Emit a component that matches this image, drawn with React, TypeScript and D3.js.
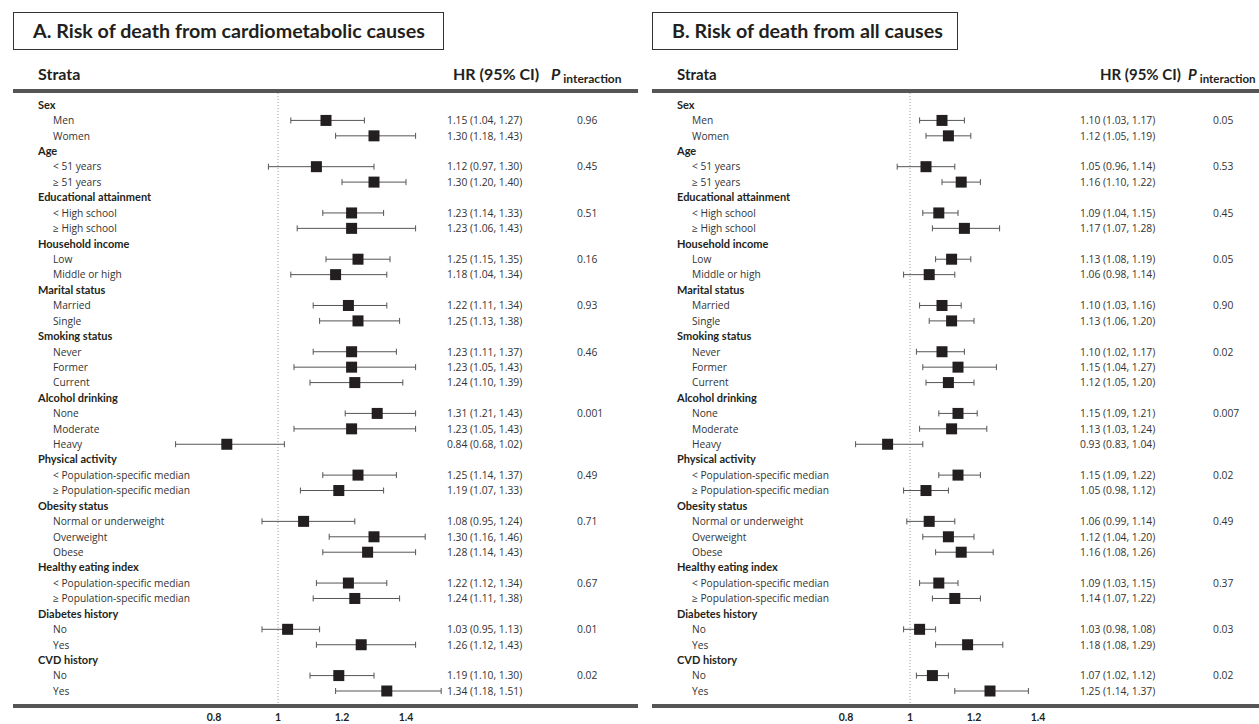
import React, { useEffect, useRef } from 'react';
import * as d3 from 'd3';

const groupNames = [
    'Sex', 'Age', 'Educational attainment', 'Household income', 'Marital status',
    'Smoking status', 'Alcohol drinking', 'Physical activity', 'Obesity status',
    'Healthy eating index', 'Diabetes history', 'CVD history',
];
const subgroupLabels = [
    ['Men', 'Women'],
    ['< 51 years', '≥ 51 years'],
    ['< High school', '≥ High school'],
    ['Low', 'Middle or high'],
    ['Married', 'Single'],
    ['Never', 'Former', 'Current'],
    ['None', 'Moderate', 'Heavy'],
    ['< Population-specific median', '≥ Population-specific median'],
    ['Normal or underweight', 'Overweight', 'Obese'],
    ['< Population-specific median', '≥ Population-specific median'],
    ['No', 'Yes'],
    ['No', 'Yes'],
];

// Panel A: cardiometabolic causes
const hrA = [1.15, 1.30, 1.12, 1.30, 1.23, 1.23, 1.25, 1.18, 1.22, 1.25, 1.23, 1.23, 1.24,
    1.31, 1.23, 0.84, 1.25, 1.19, 1.08, 1.30, 1.28, 1.22, 1.24, 1.03, 1.26, 1.19, 1.34];
const lowA = [1.04, 1.18, 0.97, 1.20, 1.14, 1.06, 1.15, 1.04, 1.11, 1.13, 1.11, 1.05, 1.10,
    1.21, 1.05, 0.68, 1.14, 1.07, 0.95, 1.16, 1.14, 1.12, 1.11, 0.95, 1.12, 1.10, 1.18];
const highA = [1.27, 1.43, 1.30, 1.40, 1.33, 1.43, 1.35, 1.34, 1.34, 1.38, 1.37, 1.43, 1.39,
    1.43, 1.43, 1.02, 1.37, 1.33, 1.24, 1.46, 1.43, 1.34, 1.38, 1.13, 1.43, 1.30, 1.51];
const pA = ['0.96', '0.45', '0.51', '0.16', '0.93', '0.46', '0.001', '0.49', '0.71', '0.67', '0.01', '0.02'];

// Panel B: all causes
const hrB = [1.10, 1.12, 1.05, 1.16, 1.09, 1.17, 1.13, 1.06, 1.10, 1.13, 1.10, 1.15, 1.12,
    1.15, 1.13, 0.93, 1.15, 1.05, 1.06, 1.12, 1.16, 1.09, 1.14, 1.03, 1.18, 1.07, 1.25];
const lowB = [1.03, 1.05, 0.96, 1.10, 1.04, 1.07, 1.08, 0.98, 1.03, 1.06, 1.02, 1.04, 1.05,
    1.09, 1.03, 0.83, 1.09, 0.98, 0.99, 1.04, 1.08, 1.03, 1.07, 0.98, 1.08, 1.02, 1.14];
const highB = [1.17, 1.19, 1.14, 1.22, 1.15, 1.28, 1.19, 1.14, 1.16, 1.20, 1.17, 1.27, 1.20,
    1.21, 1.24, 1.04, 1.22, 1.12, 1.14, 1.20, 1.26, 1.15, 1.22, 1.08, 1.29, 1.12, 1.37];
const pB = ['0.05', '0.53', '0.45', '0.05', '0.90', '0.02', '0.007', '0.02', '0.49', '0.37', '0.03', '0.02'];

const tickValues = [0.8, 1, 1.2, 1.4];
const tickLabels = ['0.8', '1', '1.2', '1.4'];

const titleA = 'A. Risk of death from cardiometabolic causes';
const titleB = 'B. Risk of death from all causes';

const W = 1259;
const H = 724;
const headFont = 'Lato, "Open Sans", sans-serif';
const bodyFont = '"Open Sans", "DejaVu Sans", sans-serif';

interface Panel {
    title: string;
    hr: number[];
    low: number[];
    high: number[];
    p: string[];
    x0: number;      // left edge
    x1: number;      // right edge
    titleW: number;
    zero: number;    // x of HR = 1
    hrX: number;
    pX: number;
    hrHeadX: number;
    pHeadX: number;
    headSize: number;
    subSize: number;
}

const panels: Panel[] = [
    { title: titleA, hr: hrA, low: lowA, high: highA, p: pA, x0: 13, x1: 638, titleW: 430,
        zero: 278, hrX: 447, pX: 577, hrHeadX: 453, pHeadX: 551, headSize: 16, subSize: 12 },
    { title: titleB, hr: hrB, low: lowB, high: highB, p: pB, x0: 652, x1: 1259, titleW: 305,
        zero: 910, hrX: 1080, pX: 1213, hrHeadX: 1100, pHeadX: 1188, headSize: 15, subSize: 11.5 },
];

const App: React.FC = () => {
    const ref = useRef<SVGSVGElement | null>(null);

    useEffect(() => {
        if (!ref.current) return;
        const svg = d3.select(ref.current);
        svg.selectAll('*').remove();

        // flatten rows
        type Row = { label: string; header: boolean; g: number; k: number; first: boolean };
        const rows: Row[] = [];
        let k = 0;
        groupNames.forEach((g, gi) => {
            rows.push({ label: g, header: true, g: gi, k: -1, first: false });
            subgroupLabels[gi].forEach((s, si) => {
                rows.push({ label: s, header: false, g: gi, k: k++, first: si === 0 });
            });
        });

        const y = d3.scaleLinear().domain([0, rows.length - 1]).range([105, 691]);
        const lineTop = 91;
        const lineBottom = 706;

        panels.forEach(pn => {
            const g = svg.append('g');
            const x = d3.scaleLinear().domain([1, 1.2]).range([pn.zero, pn.zero + 64]);

            // title box
            g.append('rect')
                .attr('x', pn.x0 + 0.5).attr('y', 12.5)
                .attr('width', pn.titleW).attr('height', 37)
                .attr('fill', 'none').attr('stroke', '#333').attr('stroke-width', 1);
            g.append('text')
                .attr('x', pn.x0 + 20).attr('y', 38)
                .style('font-family', headFont).style('font-weight', 700)
                .style('font-size', '19.7px').style('fill', '#231f20')
                .text(pn.title);

            // header
            const hs = (sel: d3.Selection<SVGTextElement, unknown, null, undefined>) =>
                sel.style('font-family', headFont).style('font-weight', 700)
                    .style('font-size', `${pn.headSize}px`).style('fill', '#231f20');
            hs(g.append('text').attr('x', pn.x0 + 25).attr('y', 80).text('Strata'));
            hs(g.append('text').attr('x', pn.hrHeadX).attr('y', 80).text('HR (95% CI)'));
            const pt = g.append('text').attr('x', pn.pHeadX).attr('y', 80)
                .style('font-family', headFont).style('fill', '#231f20');
            pt.append('tspan').style('font-weight', 700).style('font-style', 'italic')
                .style('font-size', `${pn.headSize}px`).text('P');
            pt.append('tspan').attr('dx', 3).attr('dy', 3).style('font-weight', 700)
                .style('font-size', `${pn.subSize}px`).text('interaction');

            // rules
            [lineTop, lineBottom].forEach(ly => {
                g.append('line').attr('x1', pn.x0).attr('x2', pn.x1)
                    .attr('y1', ly).attr('y2', ly)
                    .attr('stroke', '#555').attr('stroke-width', 4);
            });

            // reference line at HR = 1
            g.append('line').attr('x1', x(1)).attr('x2', x(1))
                .attr('y1', lineTop + 2).attr('y2', lineBottom - 2)
                .attr('stroke', '#999').attr('stroke-width', 1).attr('stroke-dasharray', '1,2');

            // axis labels
            g.selectAll('text.tick').data(tickValues).enter().append('text')
                .attr('class', 'tick')
                .attr('x', d => x(d)).attr('y', 721)
                .attr('text-anchor', 'middle')
                .style('font-family', headFont).style('font-weight', 700).style('font-size', '10.5px')
                .style('fill', '#231f20')
                .text((d, i) => tickLabels[i]);

            // row labels
            g.selectAll('text.row').data(rows).enter().append('text')
                .attr('class', 'row')
                .attr('x', d => pn.x0 + (d.header ? 25 : 40))
                .attr('y', (d, i) => y(i) + 3.8)
                .style('font-family', d => (d.header ? headFont : bodyFont))
                .style('font-weight', d => (d.header ? 700 : 400))
                .style('font-size', d => (d.header ? '11px' : '10.2px'))
                .style('fill', d => (d.header ? '#231f20' : '#333'))
                .text(d => d.label);

            const data = rows.map((r, i) => ({ r, i })).filter(d => !d.r.header);

            // whiskers
            const wg = g.selectAll('g.ci').data(data).enter().append('g').attr('class', 'ci');
            wg.append('line')
                .attr('x1', d => x(pn.low[d.r.k])).attr('x2', d => x(pn.high[d.r.k]))
                .attr('y1', d => y(d.i)).attr('y2', d => y(d.i))
                .attr('stroke', '#555').attr('stroke-width', 1);
            wg.append('line')
                .attr('x1', d => x(pn.low[d.r.k])).attr('x2', d => x(pn.low[d.r.k]))
                .attr('y1', d => y(d.i) - 3).attr('y2', d => y(d.i) + 3)
                .attr('stroke', '#555').attr('stroke-width', 1);
            wg.append('line')
                .attr('x1', d => x(pn.high[d.r.k])).attr('x2', d => x(pn.high[d.r.k]))
                .attr('y1', d => y(d.i) - 3).attr('y2', d => y(d.i) + 3)
                .attr('stroke', '#555').attr('stroke-width', 1);
            wg.append('rect')
                .attr('x', d => x(pn.hr[d.r.k]) - 5.5).attr('y', d => y(d.i) - 5.5)
                .attr('width', 11).attr('height', 11)
                .attr('fill', '#231f20');

            // HR text
            g.selectAll('text.hr').data(data).enter().append('text')
                .attr('class', 'hr')
                .attr('x', pn.hrX).attr('y', d => y(d.i) + 3.8)
                .style('font-family', bodyFont).style('font-size', '10.3px').style('fill', '#333')
                .text(d => `${pn.hr[d.r.k].toFixed(2)} (${pn.low[d.r.k].toFixed(2)}, ${pn.high[d.r.k].toFixed(2)})`);

            // p for interaction
            g.selectAll('text.p').data(data.filter(d => d.r.first)).enter().append('text')
                .attr('class', 'p')
                .attr('x', pn.pX).attr('y', d => y(d.i) + 3.8)
                .style('font-family', bodyFont).style('font-size', '10.3px').style('fill', '#333')
                .text(d => pn.p[d.r.g]);
        });
    }, []);

    return <svg ref={ref} width={W} height={H} style={{ display: 'block', position: 'absolute', left: 0, top: 0, background: '#fff' }} />;
};

export default App;
